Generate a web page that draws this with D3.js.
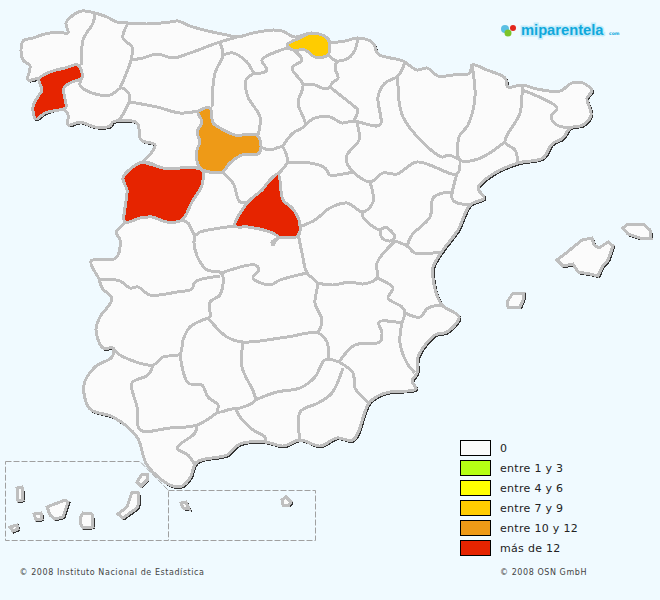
<!DOCTYPE html>
<html>
<head>
<meta charset="utf-8">
<script src="https://cdn.jsdelivr.net/npm/d3@7"></script>
<style>
  html, body { margin: 0; padding: 0; background: #f0faff; }
  svg { display: block; }
  text { font-family: "DejaVu Sans", sans-serif; }
</style>
</head>
<body>
<div id="container"></div>
<script>
// legend classes
const legendLabels = ["0", "entre 1 y 3", "entre 4 y 6", "entre 7 y 9", "entre 10 y 12", "más de 12"];
const legendColors = ["#fbfbfb", "#b5ff14", "#ffff00", "#ffcc00", "#ee9a17", "#e62400"];

// provinces that are not in the "0" class
const shadedNames = ["Pontevedra", "Valladolid", "Salamanca", "Madrid", "Vizcaya"];
const shadedClasses = ["más de 12", "entre 10 y 12", "más de 12", "más de 12", "entre 7 y 9"];
const shadedOutlines = [
  [[39,79],[50,72],[65,68],[78,65],[82,78],[72,82],[64,88],[66,107],[63,109],[45,113],[36,119],[33,107],[39,95],[42,90]],
  [[198,112],[210,108],[213,123],[220,128],[235,135],[257,135],[261,147],[258,154],[242,155],[230,163],[222,172],[200,168],[197,150],[200,142],[197,132],[202,122]],
  [[123,178],[143,162],[163,168],[202,170],[202,185],[192,202],[182,220],[167,222],[152,217],[140,218],[125,222],[127,190]],
  [[278,174],[283,200],[292,208],[299,220],[298,236],[278,238],[273,245],[272,242],[278,237],[270,232],[248,227],[235,226],[248,202],[262,190],[270,180]],
  [[287,45],[302,37],[312,33],[328,39],[328,55],[315,57],[305,50],[293,50]]
];

// map geometry, in the picture's own units
const coastline = [
  [21,50],[23,41],[33,38],[45,34],[58,32],[68,33],[66,23],[72,16],[82,11],[95,13],[107,17],[117,22],[128,23],[147,24],[170,22],[178,21],[190,26],[208,31],[227,35],[237,37],[253,33],[273,30],[282,31],[295,37],[312,33],[328,39],
  [330,42],[345,41],[358,38],[373,43],[378,54],[403,61],[417,70],[427,68],[438,76],[453,75],[470,73],[472,65],[487,70],[505,78],[508,87],[522,85],[537,89],[560,91],[572,83],[583,83],[592,91],[587,98],[591,115],[583,125],[570,128],[563,138],[552,144],[543,158],[518,163],[493,174],[478,188],[484,198],[470,205],[458,230],[443,250],
  [433,267],[433,278],[438,298],[443,306],[459,317],[447,332],[435,335],[418,357],[417,373],[412,381],[416,389],[390,392],[380,395],[369,403],[353,440],[337,438],[320,446],[300,440],[283,446],[265,442],[240,444],[227,455],[197,462],[190,478],[182,486],[170,485],[147,465],[137,437],[113,417],[90,409],[84,385],[95,367],[112,357],[113,348],[103,348],[96,330],[100,317],[112,299],[102,288],[99,279],[91,261],[116,258],[120,240],[116,232],
  [125,222],[127,190],[123,178],[143,162],[155,145],[141,140],[137,123],[113,122],[110,126],[95,127],[80,122],[68,125],[68,115],[63,109],[45,113],[36,119],[33,107],[39,95],[42,90],[39,79],[28,80],[30,66],[23,60]
];
const islands = [
  [[557,260],[565,254],[582,240],[592,238],[594,245],[599,248],[608,242],[613,246],[608,260],[602,267],[598,276],[590,274],[578,272],[573,264],[563,266]],
  [[623,228],[628,224],[643,224],[650,230],[651,238],[640,238],[628,234]],
  [[507,302],[513,293],[524,293],[523,300],[520,307],[508,307]],
  [[17,488],[22,487],[23,500],[18,501]],
  [[47,507],[65,500],[68,502],[63,517],[55,519],[50,515]],
  [[34,514],[41,513],[42,519],[36,520]],
  [[10,527],[17,525],[18,529],[13,531]],
  [[80,518],[83,513],[92,514],[93,527],[83,528],[80,523]],
  [[118,514],[127,507],[132,492],[138,492],[139,502],[137,508],[123,518]],
  [[137,482],[142,474],[147,474],[147,480],[141,486]],
  [[181,503],[186,502],[189,509],[183,508]],
  [[282,500],[286,497],[291,502],[289,505],[283,505]]
];
const borders = [
  [[95,13],[93,23],[83,40],[82,65]],
  [[82,78],[80,85],[92,93],[110,95],[122,88],[130,97],[118,122]],
  [[128,23],[123,38],[132,47],[131,60],[120,88]],
  [[131,60],[143,58],[157,54],[173,58],[190,53],[217,43],[237,37]],
  [[220,43],[223,55],[215,73],[212,107]],
  [[223,55],[233,53],[247,62],[255,73],[267,70],[262,60],[287,48]],
  [[255,73],[246,80],[248,97],[260,117],[258,135]],
  [[130,102],[157,107],[180,113],[198,111]],
  [[143,162],[163,168]],
  [[222,172],[233,183],[240,202],[248,202]],
  [[235,226],[200,232],[195,235],[188,223],[182,220]],
  [[261,147],[270,150],[282,147],[287,157],[287,163],[278,174]],
  [[287,48],[293,50],[302,60],[292,68],[303,85],[298,103],[305,125],[293,133],[282,147]],
  [[303,85],[315,85],[325,89],[330,87],[332,83],[338,78],[335,68],[337,61]],
  [[328,55],[337,61],[350,57],[355,50],[358,38]],
  [[330,87],[340,95],[355,107],[358,110],[353,122]],
  [[305,125],[315,118],[330,117],[342,123],[353,121],[380,125],[378,97],[385,83],[398,76],[405,62]],
  [[398,76],[403,117],[442,157],[448,155],[460,160]],
  [[357,123],[359,140],[347,155],[347,163],[353,172]],
  [[353,172],[370,182],[383,173],[397,174],[417,162],[457,174],[460,160]],
  [[287,163],[310,163],[325,168],[330,175],[343,174],[353,172]],
  [[299,227],[315,220],[330,208],[347,203],[363,212],[373,202],[370,182]],
  [[363,212],[363,217],[380,230],[385,227],[395,237],[390,241],[382,238],[380,230]],
  [[395,241],[407,246],[415,253],[440,252]],
  [[457,174],[452,198],[455,202],[470,205]],
  [[452,193],[443,193],[433,198],[430,217],[412,235],[407,246]],
  [[472,65],[475,97],[468,125],[459,137],[460,160],[478,159],[505,142]],
  [[522,86],[520,113],[505,142],[515,150],[518,163]],
  [[522,90],[557,108],[551,117],[557,125],[570,128]],
  [[195,235],[194,243],[198,258],[207,270],[220,272],[223,277],[220,295],[210,302],[210,317],[208,318]],
  [[100,279],[120,281],[130,288],[138,287],[150,295],[177,292],[192,289],[195,282],[220,276]],
  [[222,273],[230,270],[255,265],[259,270],[253,278],[270,285],[280,280],[307,273]],
  [[298,233],[302,253],[307,273],[317,283],[315,303],[322,320],[318,333]],
  [[208,318],[190,327],[183,340],[180,354],[163,357],[153,365],[120,355],[113,348]],
  [[153,365],[148,375],[132,383],[137,407],[140,430],[170,428],[197,425],[218,412]],
  [[180,354],[188,383],[202,385],[208,397],[218,405],[218,412],[235,409],[240,417],[253,430],[265,437],[265,442]],
  [[197,425],[195,433],[177,448],[188,455],[195,465]],
  [[208,318],[227,337],[243,342],[287,337],[318,333],[327,342],[328,359]],
  [[243,342],[242,367],[255,400],[240,408],[235,409]],
  [[255,400],[277,392],[300,388],[315,377],[325,360],[339,362]],
  [[343,368],[332,393],[318,403],[300,412],[300,440]],
  [[317,283],[333,285],[350,282],[363,284],[377,278],[377,263],[395,241]],
  [[339,362],[355,345],[380,342],[382,333],[379,322],[402,323]],
  [[377,278],[393,288],[388,298],[402,307],[405,313],[402,323],[400,343],[407,363],[415,373]],
  [[405,313],[420,317],[428,308],[443,305]],
  [[339,362],[353,373],[355,388],[369,403]]
];
const insetLeft = [[5.5,461.5],[140,461.5],[168.5,490.5],[168.5,540.5],[5.5,540.5],[5.5,461.5]];
const insetRight = [[168.5,490.5],[315.5,490.5],[315.5,540.5],[168.5,540.5]];

const svg = d3.select("#container").append("svg").attr("width", 660).attr("height", 600);

const ringPath = d3.line().curve(d3.curveCatmullRomClosed.alpha(0.5));
const islandPath = d3.line().curve(d3.curveLinearClosed);
const openPath = d3.line().curve(d3.curveCatmullRom.alpha(0.5));
const straightPath = d3.line();
const landShapes = [coastline].concat(islands);
const landPath = (d) => (d === coastline ? ringPath(d) : islandPath(d));
const classColor = d3.scaleOrdinal(legendLabels, legendColors);
const borderGrey = "#bfbfbf";

// inset frames for the islands
svg.append("g")
  .selectAll("path")
  .data([insetLeft, insetRight])
  .join("path")
  .attr("d", straightPath)
  .attr("fill", "none")
  .attr("stroke", "#a0a0a0")
  .attr("stroke-dasharray", "6,2");

const map = svg.append("g").attr("shape-rendering", "crispEdges");

// dark edge that shows on the south east side of the coast
map.append("g")
  .attr("transform", "translate(1,1)")
  .selectAll("path")
  .data(landShapes)
  .join("path")
  .attr("d", landPath)
  .attr("fill", "#333")
  .attr("stroke", "#333")
  .attr("stroke-width", 2.6);

map.append("g")
  .selectAll("path")
  .data(landShapes)
  .join("path")
  .attr("d", landPath)
  .attr("fill", legendColors[0])
  .attr("stroke", borderGrey)
  .attr("stroke-width", 3);

map.append("g")
  .selectAll("path")
  .data(shadedOutlines)
  .join("path")
  .attr("d", ringPath)
  .attr("fill", (d, i) => classColor(shadedClasses[i]))
  .attr("stroke", borderGrey)
  .attr("stroke-width", 3)
  .append("title")
  .text((d, i) => shadedNames[i]);

map.append("g")
  .selectAll("path")
  .data(borders)
  .join("path")
  .attr("d", openPath)
  .attr("fill", "none")
  .attr("stroke", borderGrey)
  .attr("stroke-width", 3);

// legend
const legendY = d3.scalePoint().domain(legendLabels).range([440, 540]);
const legend = svg.append("g");
legend.selectAll("rect")
  .data(legendLabels)
  .join("rect")
  .attr("x", 460.5)
  .attr("y", (d) => legendY(d) + 0.5)
  .attr("width", 30)
  .attr("height", 15)
  .attr("fill", (d) => classColor(d))
  .attr("stroke", "#000");
legend.selectAll("text")
  .data(legendLabels)
  .join("text")
  .attr("x", 500)
  .attr("y", (d) => legendY(d) + 11.5)
  .attr("font-size", 11)
  .attr("letter-spacing", 0.3)
  .attr("fill", "#222")
  .text((d) => d);

// credits
svg.append("text").attr("x", 19.5).attr("y", 575).attr("font-size", 8)
  .attr("letter-spacing", 0.57).attr("fill", "#444").text("© 2008 Instituto Nacional de Estadística");
svg.append("text").attr("x", 500).attr("y", 575).attr("font-size", 8)
  .attr("letter-spacing", 0.57).attr("fill", "#444").text("© 2008 OSN GmbH");

// logo
const logo = svg.append("g");
logo.append("text").attr("x", 521).attr("y", 35).attr("font-size", 14.7).attr("font-weight", "bold")
  .style("font-family", '"Liberation Sans", sans-serif')
  .attr("fill", "#10a8dc").attr("stroke", "#c4ecfa").attr("stroke-width", 3)
  .attr("paint-order", "stroke")
  .text("miparentela");
logo.append("text").attr("x", 609).attr("y", 35).attr("font-size", 4.5).attr("font-weight", "bold")
  .attr("fill", "#10a8dc").text("com");
logo.append("circle").attr("cx", 505).attr("cy", 29).attr("r", 4).attr("fill", "#5bbfe3");
logo.append("circle").attr("cx", 508).attr("cy", 33).attr("r", 3.5).attr("fill", "#7cc42a");
logo.append("circle").attr("cx", 513).attr("cy", 28).attr("r", 3).attr("fill", "#e3261c");
</script>
</body>
</html>
